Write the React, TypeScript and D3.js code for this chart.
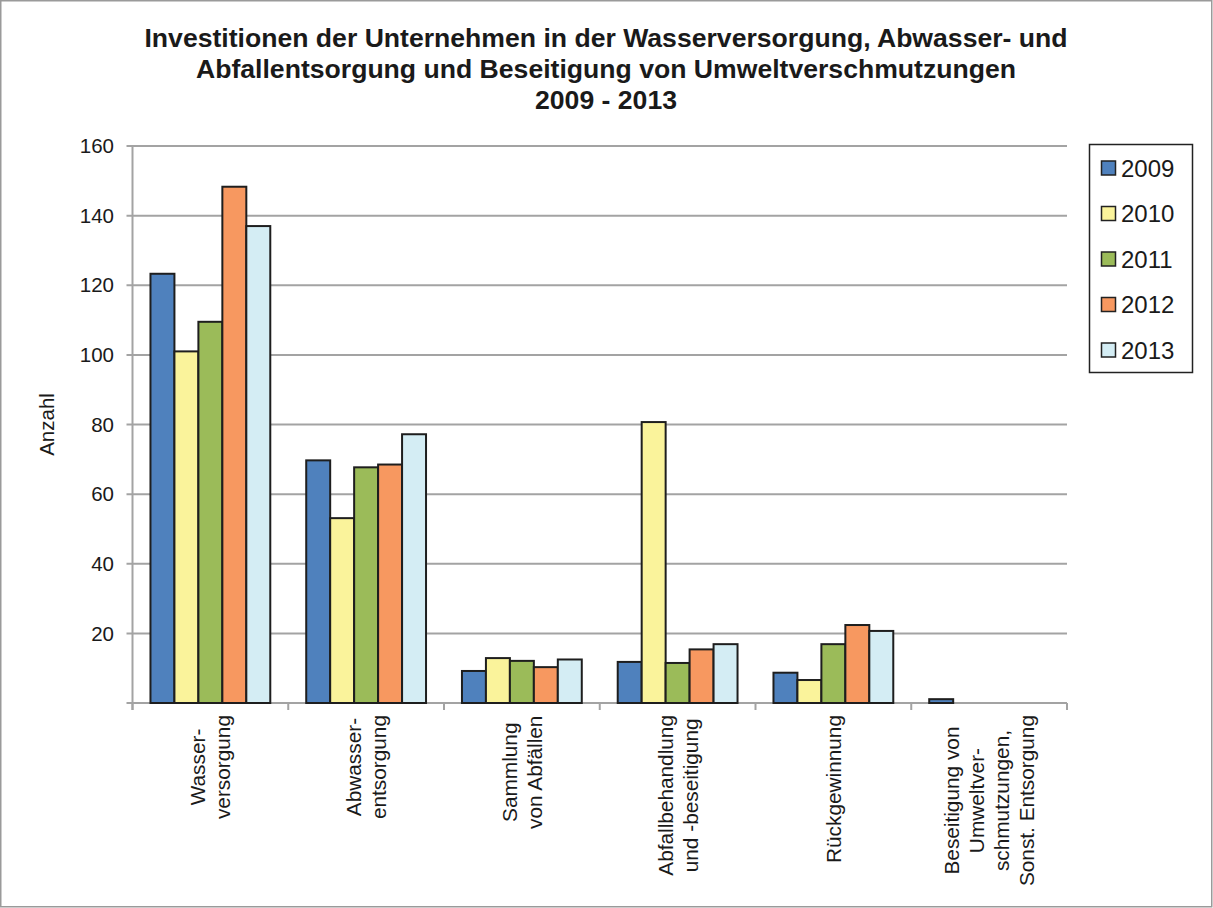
import React from "react";
import * as d3 from "d3";

const categories = [
  ["Wasser-", "versorgung"],
  ["Abwasser-", "entsorgung"],
  ["Sammlung", "von Abfällen"],
  ["Abfallbehandlung", "und -beseitigung"],
  ["Rückgewinnung"],
  ["Beseitigung von", "Umweltver-", "schmutzungen,", "Sonst. Entsorgung"],
];
const years = ["2009", "2010", "2011", "2012", "2013"];
const v2009 = [123.3, 69.7, 9.2, 11.8, 8.7, 1.1];
const v2010 = [101, 53.1, 12.9, 80.7, 6.6, 0];
const v2011 = [109.5, 67.7, 12.1, 11.5, 16.9, 0];
const v2012 = [148.3, 68.5, 10.3, 15.4, 22.4, 0];
const v2013 = [137, 77.2, 12.5, 16.9, 20.7, 0];
const series = [v2009, v2010, v2011, v2012, v2013];
const yTicks = [0, 20, 40, 60, 80, 100, 120, 140, 160];
const colors = ["#4f81bd", "#faf39b", "#9bbb59", "#f79860", "#d4edf4"];
const titleLines = [
  "Investitionen der Unternehmen in der Wasserversorgung, Abwasser- und",
  "Abfallentsorgung und Beseitigung von Umweltverschmutzungen",
  "2009 - 2013",
];

const FONT = "Liberation Sans, Arial, Helvetica, sans-serif";

function measure(text: string, font: string): number {
  if (typeof document === "undefined") return text.length * 10;
  const c = document.createElement("canvas");
  const ctx = c.getContext("2d");
  if (!ctx) return text.length * 10;
  ctx.font = font;
  return ctx.measureText(text).width;
}

export default function App() {
  const W = 1213;
  const H = 908;
  const left = 132.5;
  const right = 1067;
  const top = 146;
  const bottom = 703;

  const keys = categories.map((c) => c.join(" "));
  const x = d3.scaleBand<string>().domain(keys).range([left, right]).paddingInner(0).paddingOuter(0);
  const xs = d3
    .scaleBand<string>()
    .domain(years)
    .range([0, x.bandwidth()])
    .paddingInner(0)
    .paddingOuter(0.75);
  const y = d3.scaleLinear().domain([0, 160]).range([bottom, top]);

  const labelFontSize = 20.8;
  const labelFont = `${labelFontSize}px ${FONT}`;
  const lineGap = 25;

  const boundaries = keys.map((k) => x(k) as number).concat([right]);

  return (
    <svg
      width={W}
      height={H}
      style={{ position: "absolute", left: 0, top: 0, background: "#fff" }}
      fontFamily={FONT}
    >
      <rect x={0.75} y={0.75} width={W - 2} height={H - 2} fill="#fff" stroke="#9a9a9a" strokeWidth={1.5} />

      {titleLines.map((t, i) => (
        <text
          key={i}
          x={606}
          y={47 + i * 31}
          textAnchor="middle"
          fontWeight="bold"
          fontSize={26.6}
          fill="#1a1a1a"
        >
          {t}
        </text>
      ))}

      {/* gridlines */}
      {yTicks.map((t) => (
        <line
          key={"g" + t}
          x1={left - 6}
          x2={right}
          y1={y(t)}
          y2={y(t)}
          stroke="#a3a3a3"
          strokeWidth={2}
        />
      ))}
      {/* y axis */}
      <line x1={left} x2={left} y1={top} y2={bottom + 7} stroke="#a3a3a3" strokeWidth={2} />
      {yTicks.map((t) => (
        <text
          key={"yt" + t}
          x={114}
          y={y(t)}
          dy="0.35em"
          textAnchor="end"
          fontSize={20.5}
          fill="#1a1a1a"
        >
          {t === 0 ? "" : t}
        </text>
      ))}
      <text
        transform={`translate(54, ${(top + bottom) / 2}) rotate(-90)`}
        textAnchor="middle"
        fontSize={20.5}
        fill="#1a1a1a"
      >
        Anzahl
      </text>

      {/* category ticks */}
      {boundaries.map((b, i) => (
        <line key={"ct" + i} x1={b} x2={b} y1={bottom} y2={bottom + 7} stroke="#a3a3a3" strokeWidth={2} />
      ))}

      {/* bars */}
      {keys.map((k, ci) => (
        <g key={k} transform={`translate(${x(k)},0)`}>
          {years.map((yr, si) => {
            const v = series[si][ci];
            if (!v) return null;
            return (
              <rect
                key={yr}
                x={xs(yr)}
                y={y(v)}
                width={xs.bandwidth()}
                height={y(0) - y(v)}
                fill={colors[si]}
                stroke="#1e1e1e"
                strokeWidth={2}
              />
            );
          })}
        </g>
      ))}

      {/* category labels */}
      {categories.map((lines, ci) => {
        const cx = (x(keys[ci]) as number) + x.bandwidth() / 2;
        const maxW = Math.max(...lines.map((l) => measure(l, labelFont)));
        const cy = 715 + maxW / 2;
        const n = lines.length;
        return (
          <g key={"cl" + ci}>
            {lines.map((l, li) => {
              const lx = cx + (li - (n - 1) / 2) * lineGap;
              return (
                <text
                  key={li}
                  transform={`translate(${lx + 7.5}, ${cy}) rotate(-90)`}
                  textAnchor="middle"
                  fontSize={labelFontSize}
                  fill="#1a1a1a"
                >
                  {l}
                </text>
              );
            })}
          </g>
        );
      })}

      {/* legend */}
      <rect x={1089.5} y={144.5} width={103} height={228} fill="#fff" stroke="#222" strokeWidth={1.5} />
      {years.map((yr, i) => {
        const cyy = 168 + i * 45.5;
        return (
          <g key={"l" + yr}>
            <rect x={1101.5} y={cyy - 7} width={14} height={14} fill={colors[i]} stroke="#222" strokeWidth={1.5} />
            <text x={1121} y={cyy} dy="0.36em" fontSize={24} fill="#1a1a1a">
              {yr}
            </text>
          </g>
        );
      })}
    </svg>
  );
}
